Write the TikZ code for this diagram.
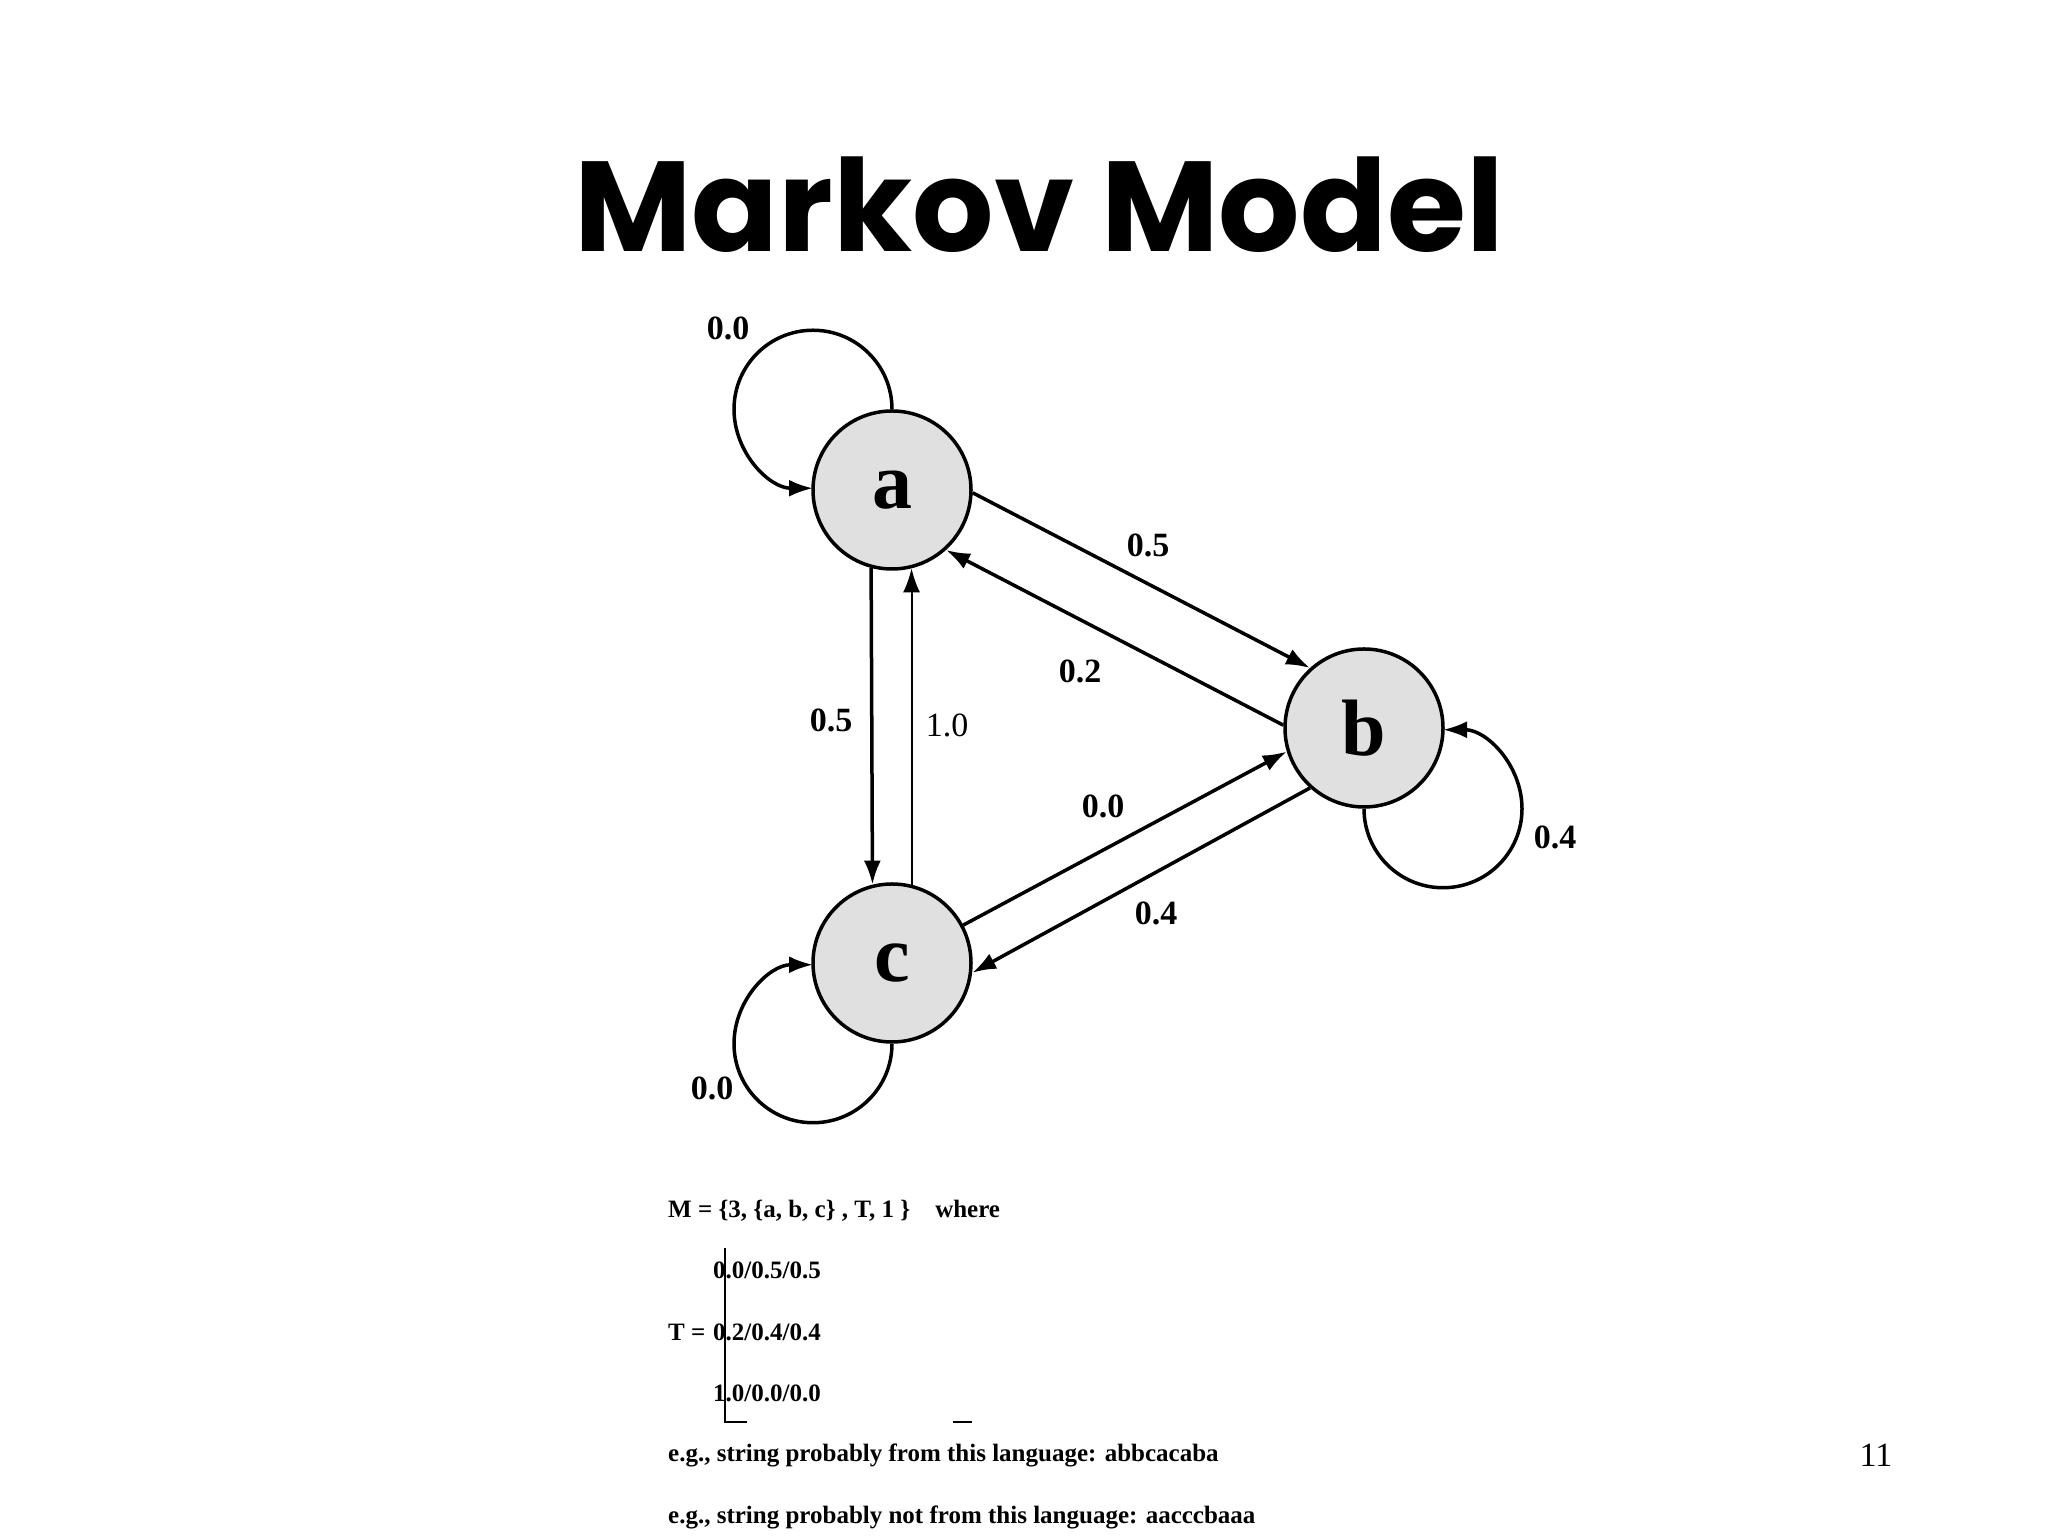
\documentclass[tikz,border=0pt]{standalone}
\usepackage{fontspec}
\setmainfont{Liberation Serif}
\newfontfamily\titlefont{Poppins}
\usetikzlibrary{arrows.meta}
\begin{document}
\begin{tikzpicture}[x=1pt,y=1pt,
  st/.style={circle,draw,line width=3.5pt,fill=black!12,minimum size=158pt,inner sep=0pt,font=\fontsize{80}{80}\selectfont\bfseries},
  ed/.style={line width=3.5pt,-{Latex[length=24pt,width=17pt]}},
  lb/.style={font=\fontsize{34}{34}\selectfont\bfseries},
  tx/.style={font=\fontsize{25}{25}\selectfont\bfseries,anchor=west,inner sep=0pt}]
\useasboundingbox (0,0) rectangle (2048,1536);
\node[font=\titlefont\fontsize{128}{128}\selectfont\bfseries] (title) at (1039,1331) {Markov Model};
\node[st] (a) at (892,1046) {a};
\node[st] (b) at (1364,808) {b};
\node[st] (c) at (892,573) {c};
\draw[ed] (a.-2) -- (b.132);
\draw[ed] (b.178) -- (a.-48);
\draw[ed] (a.-105) -- (c.104);
\draw[line width=2pt,-{Latex[length=24pt,width=17pt]}] (c.76) -- (a.-76);
\draw[ed] (c.28) -- (b.197);
\draw[ed] (b.228) -- (c.-7);
\draw[ed] (a.north) arc[start angle=0,end angle=270,radius=79];
\draw[ed] (b.south) arc[start angle=180,end angle=450,radius=79];
\draw[ed] (c.south) arc[start angle=0,end angle=-270,radius=79];
\node[lb] (l1) at (728,1208) {0.0};
\node[lb] (l2) at (1148,991) {0.5};
\node[lb] (l3) at (1080,865) {0.2};
\node[lb] (l4) at (831,816) {0.5};
\node[lb,font=\fontsize{34}{34}\selectfont] (l5) at (947,811) {1.0};
\node[lb] (l6) at (1103,730) {0.0};
\node[lb] (l7) at (1156,623) {0.4};
\node[lb] (l8) at (1555,699) {0.4};
\node[lb] (l9) at (712,448) {0.0};
\node[tx] (m) at (668,325) {M = \{3, \{a, b, c\} , T, 1 \}\quad where};
\node[tx] (t) at (668,204) {T =};
\foreach \r/\y in {{0.0/0.5/0.5}/266,{0.2/0.4/0.4}/204,{1.0/0.0/0.0}/143}{
  \foreach \v [count=\i] in \r {
    \node[tx,anchor=center] (m\i) at ({767+(\i-1)*81},\y) {\v};
  }
}
\draw[line width=2.5pt] (725,288) -- (725,114) -- (747,114);
\draw[line width=2.5pt] (953,114) -- (972,114);
\node[tx] (e1) at (668,81) {e.g., string probably from this language: abbcacaba};
\node[tx] (e2) at (668,19) {e.g., string probably not from this language: aacccbaaa};
\node[font=\fontsize{34}{34}\selectfont] (pg) at (1876,81) {11};
\end{tikzpicture}
\end{document}
